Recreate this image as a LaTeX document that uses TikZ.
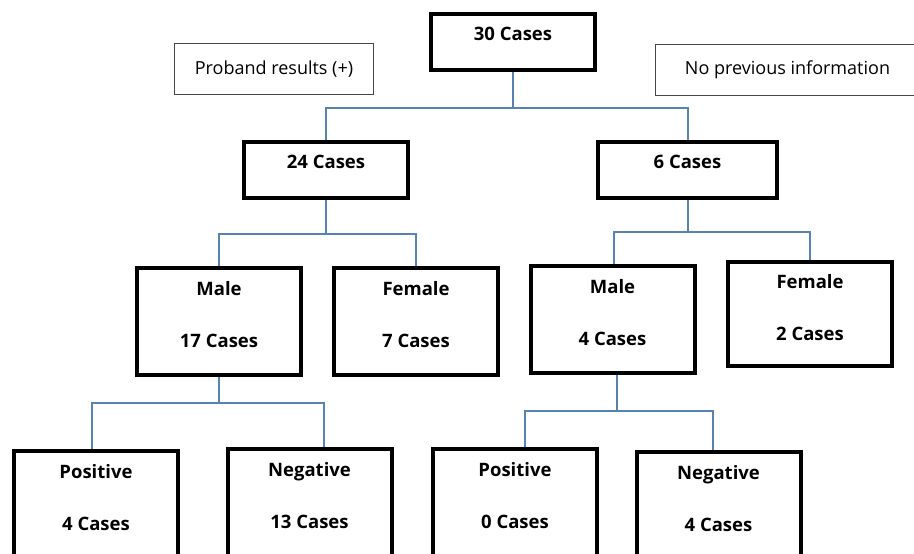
\documentclass[tikz,border=0pt]{standalone}
\usepackage{fontspec}
\setmainfont{Open Sans}
\definecolor{linkblue}{RGB}{88,130,176}
\definecolor{notegray}{RGB}{70,70,70}

\begin{document}
\begin{tikzpicture}[x=1pt,y=-1pt,node distance=128pt,
    box/.style={draw,line width=4pt,minimum width=164pt,minimum height=56pt,inner sep=0pt,
      font=\fontsize{18.5}{20}\selectfont\bfseries,text height=13pt,text depth=16pt},
    tall/.style={minimum height=107pt,align=center,text height=65pt,text depth=13pt},
    note/.style={draw=notegray,line width=1.2pt,minimum height=51pt,
      font=\fontsize{18}{20}\selectfont},
    link/.style={draw=linkblue,line width=2pt}]
      \useasboundingbox (0,0) rectangle (914,554);
      \clip (0,0) rectangle (914,554);

      \node[box] (1) at (513,42) {30 Cases};
      \node[note,left of=1,xshift=-111pt,yshift=-27pt,minimum width=199pt] (12) {Proband results (+)};
      \node[note,right of=1,xshift=146.5pt,yshift=-28pt,minimum width=264pt] (13) {No previous information};
      \node[box,below of=1,xshift=-187pt] (2) {24 Cases};
      \node[box,below of=1,xshift=174.5pt,minimum width=179pt] (3) {6 Cases};
      \node[box,tall,below of=2,xshift=-107pt,yshift=-23.5pt] (4) {Male\\[32pt]17 Cases};
      \node[box,tall,below of=2,xshift=90pt,yshift=-23.5pt] (5) {Female\\[32pt]7 Cases};
      \node[box,tall,below of=3,xshift=-75pt,yshift=-21.5pt] (6) {Male\\[32pt]4 Cases};
      \node[box,tall,below of=3,xshift=122.5pt,yshift=-16pt,minimum height=104pt] (7) {Female\\[32pt]2 Cases};
      \node[box,tall,below of=4,xshift=-123pt,yshift=-55pt] (8) {Positive\\[32pt]4 Cases};
      \node[box,tall,below of=4,xshift=90.5pt,yshift=-53pt] (9) {Negative\\[32pt]13 Cases};
      \node[box,tall,below of=6,xshift=-97.5pt,yshift=-55pt] (10) {Positive\\[32pt]0 Cases};
      \node[box,tall,below of=6,xshift=106pt,yshift=-58pt] (11) {Negative\\[32pt]4 Cases};

      \draw[link] (1.south) -- ++(0,36) -| (2.north);
      \draw[link] (1.south) ++(0,36) -| (3.north);
      \draw[link] (2.south) -- ++(0,34) -| (4.north);
      \draw[link] (2.south) ++(0,34) -| (5.north);
      \draw[link] (3.south) -- ++(0,32) -| ([xshift=1.5pt]6.north);
      \draw[link] (3.south) ++(0,32) -| (7.north);
      \draw[link] (4.south) -- ++(0,26) -| ([xshift=-4pt]8.north);
      \draw[link] (4.south) ++(0,26) -| ([xshift=14.5pt]9.north);
      \draw[link] ([xshift=4.5pt]6.south) -- ++(0,36) -| ([xshift=10pt]10.north);
      \draw[link] ([xshift=4.5pt]6.south) ++(0,36) -| ([xshift=-5.5pt]11.north);
    \end{tikzpicture}
\end{document}
